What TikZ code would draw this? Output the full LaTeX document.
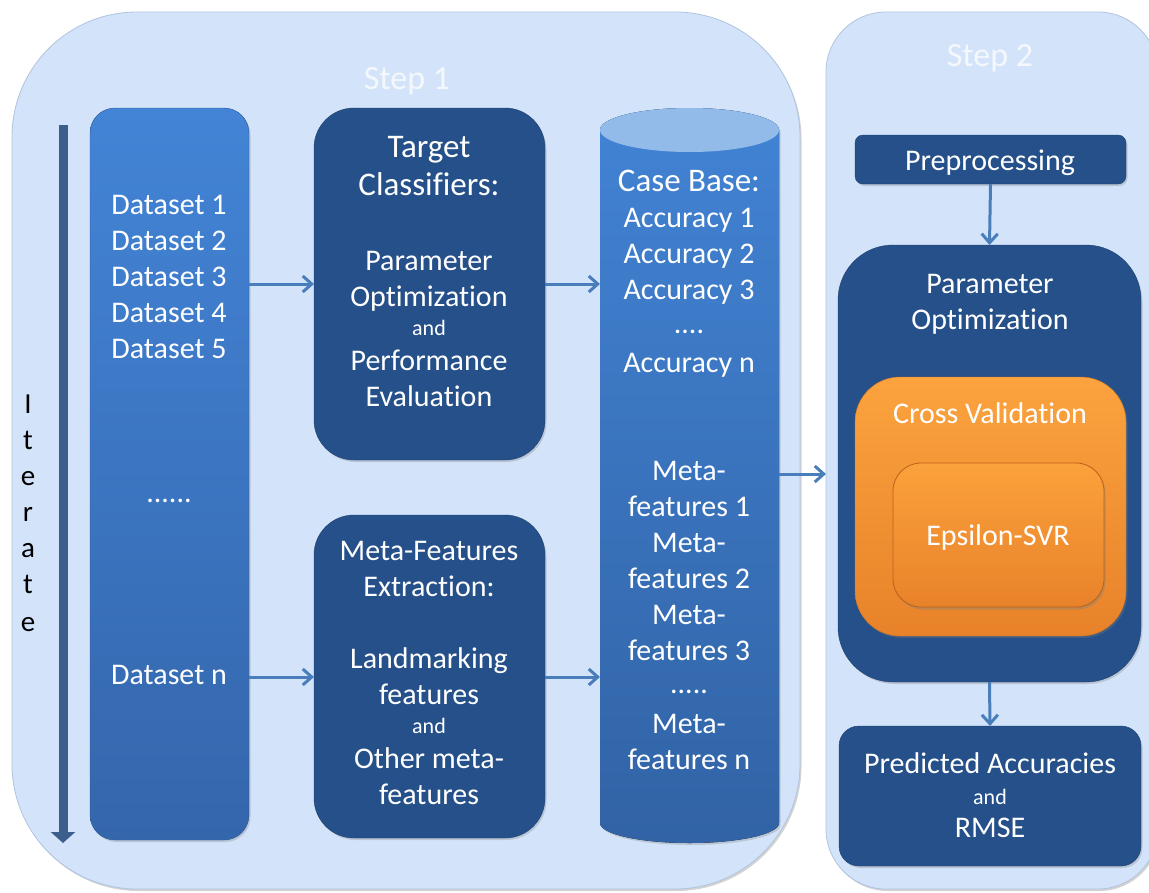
\documentclass[tikz,border=0pt]{standalone}
\usepackage{fontspec}
\setmainfont[Ligatures=NoCommon]{Carlito}
\usetikzlibrary{shadows,arrows.meta,calc}

\definecolor{panelfill}{HTML}{D3E4FA}
\definecolor{paneledge}{HTML}{AFC4DF}
\definecolor{darkbox}{HTML}{25508A}
\definecolor{dsTop}{HTML}{4384D6}
\definecolor{dsBot}{HTML}{3466AC}
\definecolor{cylTop}{HTML}{93BBEA}
\definecolor{cylBodyTop}{HTML}{4283D4}
\definecolor{cylBodyBot}{HTML}{3163A5}
\definecolor{arrowblue}{HTML}{4A7EBB}
\definecolor{iterblue}{HTML}{3B5E8C}
\definecolor{orTop}{HTML}{FBA33E}
\definecolor{orBot}{HTML}{E8822A}
\definecolor{orEdge}{HTML}{B8621C}
\definecolor{titlewhite}{HTML}{F4F8FD}

\newcommand\putlbl[5][lbl]{\node[#1,anchor=base] (#2) at (#3,#4) {#5};}

\tikzset{
  panel/.style={fill=panelfill, draw=paneledge, line width=0.8pt,
    drop shadow={shadow xshift=1.5pt, shadow yshift=-2pt, opacity=0.35}},
  box/.style={anchor=north west, inner sep=0pt, outer sep=0pt},
  darkbox/.style={box, fill=darkbox, draw=darkbox!80!black, line width=0.4pt,
    drop shadow={shadow xshift=1.5pt, shadow yshift=-2pt, opacity=0.3}},
  lbl/.style={text=white, font=\fontsize{30}{36}\selectfont, inner sep=0pt},
  big/.style={text=white, font=\fontsize{33}{40}\selectfont, inner sep=0pt},
  small/.style={text=white, font=\fontsize{22}{26}\selectfont, inner sep=0pt},
  title/.style={text=titlewhite, font=\fontsize{34}{40}\selectfont, inner sep=0pt},
  letter/.style={text=black, font=\fontsize{29}{34}\selectfont, inner sep=0pt},
  arr/.style={draw=arrowblue, line width=3pt,
    -{Straight Barb[length=9pt, width=16pt, line width=3pt]}},
}

\begin{document}
\begin{tikzpicture}[x=1pt, y=-1pt]
\useasboundingbox (0,0) rectangle (1149,892);
\clip (0,0) rectangle (1149,892);

% the two stage panels
\node[panel, box, rounded corners=125pt, minimum width=788pt, minimum height=877pt] (s1) at (12,12) {};
\node[panel, box, rounded corners=60pt, minimum width=332pt, minimum height=877pt] (s2) at (826,12) {};
\putlbl[title]{s1t}{407}{89}{Step 1}
\putlbl[title]{s2t}{990}{66}{Step 2}

% iteration arrow and its vertical caption
\coordinate (itTop) at (63,125);
\coordinate (itBot) at (63,843);
\draw[iterblue, line width=9pt, -{Triangle[length=11pt, width=24pt]}] (itTop) -- (itBot);
\foreach \c/\y [count=\i] in {I/413, t/449, e/485, r/521, a/557, t/593, e/631}
  \node[letter, anchor=base] (it\i) at (28,\y) {\c};

% datasets
\node[box, rounded corners=25pt, minimum width=159pt, minimum height=732pt,
  top color=dsTop, bottom color=dsBot, draw=dsBot!85!black, line width=0.4pt,
  drop shadow={shadow xshift=1.5pt, shadow yshift=-2pt, opacity=0.3}] (ds) at (90,108) {};
\putlbl{d1}{169}{214}{Dataset 1}
\putlbl{d2}{169}{250}{Dataset 2}
\putlbl{d3}{169}{286}{Dataset 3}
\putlbl{d4}{169}{322}{Dataset 4}
\putlbl{d5}{169}{358}{Dataset 5}
\putlbl{ddots}{169}{502}{......}
\putlbl{dn}{169}{684}{Dataset n}

% target classifiers
\node[darkbox, rounded corners=40pt, minimum width=231pt, minimum height=352pt] (tc) at (314,108) {};
\putlbl[big]{tc1}{429}{157}{Target}
\putlbl[big]{tc2}{429}{195}{Classifiers:}
\putlbl{tc3}{429}{270}{Parameter}
\putlbl{tc4}{429}{306}{Optimization}
\putlbl[small]{tc5}{429}{335}{and}
\putlbl{tc6}{429}{370}{Performance}
\putlbl{tc7}{429}{406}{Evaluation}

% meta-feature extraction
\node[darkbox, rounded corners=40pt, minimum width=231pt, minimum height=323pt] (mf) at (314,515) {};
\putlbl{mf1}{429}{560}{Meta-Features}
\putlbl{mf2}{429}{596}{Extraction:}
\putlbl{mf3}{429}{668}{Landmarking}
\putlbl{mf4}{429}{704}{features}
\putlbl[small]{mf5}{429}{733}{and}
\putlbl{mf6}{429}{768}{Other meta-}
\putlbl{mf7}{429}{804}{features}

% case base cylinder
\node[box, minimum width=179pt, minimum height=693pt] (cb) at (600,130) {};
\fill[top color=cylBodyTop, bottom color=cylBodyBot,
  drop shadow={shadow xshift=1.5pt, shadow yshift=-2pt, opacity=0.3}]
  (cb.north west) -- (cb.south west)
  arc[start angle=180, end angle=360, x radius=89.5pt, y radius=20pt]
  -- (cb.north east)
  arc[start angle=0, end angle=180, x radius=89.5pt, y radius=22pt] -- cycle;
\fill[cylTop] (cb.north) ellipse[x radius=89.5pt, y radius=22pt];
\putlbl[big]{cb1}{689}{191}{Case Base:}
\putlbl{cb2}{689}{227}{Accuracy 1}
\putlbl{cb3}{689}{263}{Accuracy 2}
\putlbl{cb4}{689}{299}{Accuracy 3}
\putlbl{cb5}{689}{333}{....}
\putlbl{cb6}{689}{372}{Accuracy n}
\putlbl{cb7}{689}{480}{Meta-}
\putlbl{cb8}{689}{516}{features 1}
\putlbl{cb9}{689}{552}{Meta-}
\putlbl{cb10}{689}{588}{features 2}
\putlbl{cb11}{689}{624}{Meta-}
\putlbl{cb12}{689}{660}{features 3}
\putlbl{cb13}{689}{693}{.....}
\putlbl{cb14}{689}{733}{Meta-}
\putlbl{cb15}{689}{769}{features n}

% step 2 pipeline
\node[darkbox, rounded corners=8pt, minimum width=271pt, minimum height=49pt] (pp) at (855,135) {};
\putlbl{pp1}{990}{170}{Preprocessing}

\node[darkbox, rounded corners=55pt, minimum width=303pt, minimum height=437pt] (po) at (838,245) {};
\putlbl{po1}{990}{293}{Parameter}
\putlbl{po2}{990}{329}{Optimization}

\node[box, rounded corners=45pt, minimum width=271pt, minimum height=259pt,
  top color=orTop, bottom color=orBot, draw=orEdge!70!orTop, line width=0.4pt,
  drop shadow={shadow xshift=1.5pt, shadow yshift=-2pt, opacity=0.3}] (cv) at (855,377) {};
\putlbl{cv1}{990}{423}{Cross Validation}

\node[box, rounded corners=28pt, minimum width=211pt, minimum height=144pt,
  top color=orTop!95!orange, bottom color=orBot, draw=orEdge, line width=0.8pt,
  drop shadow={shadow xshift=1.5pt, shadow yshift=-2.5pt, opacity=0.4}] (es) at (893,463) {};
\putlbl{es1}{998}{545}{Epsilon-SVR}

\node[darkbox, rounded corners=20pt, minimum width=302pt, minimum height=140pt] (pa) at (839,726) {};
\putlbl{pa1}{990}{773}{Predicted Accuracies}
\putlbl[small]{pa2}{990}{804}{and}
\putlbl{pa3}{990}{837}{RMSE}

% connectors
\coordinate (rowA) at (0,284);
\coordinate (rowB) at (0,677);
\coordinate (rowC) at (0,474);
\draw[arr] (ds.east |- rowA) -- (tc.west |- rowA);
\draw[arr] (ds.east |- rowB) -- (mf.west |- rowB);
\draw[arr] (tc.east |- rowA) -- (cb.west |- rowA);
\draw[arr] (mf.east |- rowB) -- (cb.west |- rowB);
\draw[arr] (cb.east |- rowC) -- (s2.west |- rowC);
\draw[arr] (pp.south) -- (po.north);
\draw[arr] (po.south) -- (pa.north);
\end{tikzpicture}
\end{document}
